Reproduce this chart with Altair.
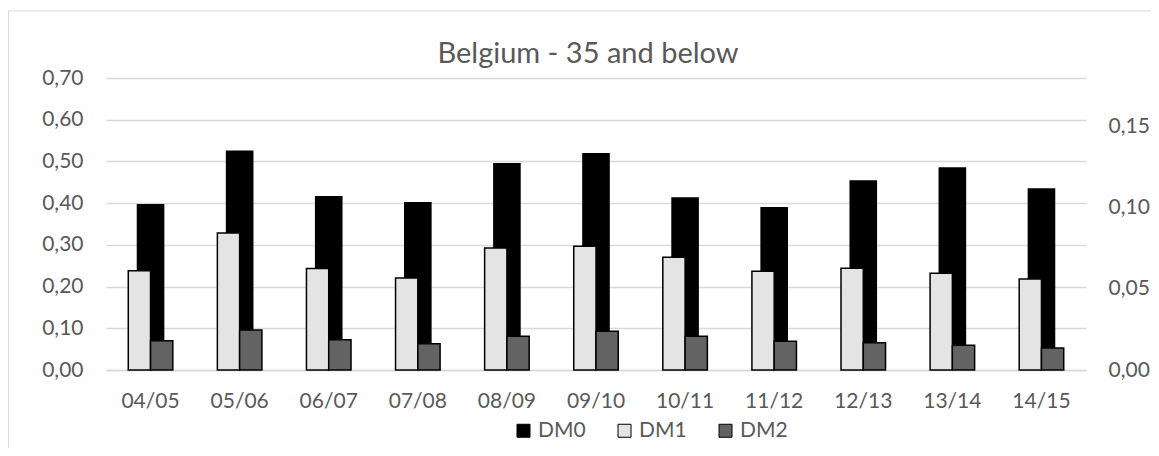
import pandas as pd
import altair as alt

seasons = ["04/05", "05/06", "06/07", "07/08", "08/09", "09/10",
           "10/11", "11/12", "12/13", "13/14", "14/15"]

# DM0 on the left axis, DM1 and DM2 on the right one
dm0 = [0.398, 0.526, 0.417, 0.403, 0.496, 0.520, 0.414, 0.391, 0.455, 0.486, 0.436]
dm1 = [0.0612, 0.0845, 0.0625, 0.0567, 0.0752, 0.0763, 0.0695, 0.0608, 0.0627, 0.0596, 0.0561]
dm2 = [0.0181, 0.0247, 0.0187, 0.0162, 0.0208, 0.0239, 0.0208, 0.0177, 0.0168, 0.0152, 0.0136]

series = ["DM0", "DM1", "DM2"]
fills = ["#000000", "#e4e4e4", "#636363"]

left_ticks = [0, 0.1, 0.2, 0.3, 0.4, 0.5, 0.6, 0.7]
right_ticks = [0, 0.05, 0.10, 0.15]

grey_text = "#595959"
font = "Lato"

df0 = pd.DataFrame({"season": seasons, "series": "DM0", "value": dm0})
df12 = pd.concat([
    pd.DataFrame({"season": seasons, "series": "DM1", "value": dm1}),
    pd.DataFrame({"season": seasons, "series": "DM2", "value": dm2}),
])

comma = "replace(format(datum.value, '.2f'), '.', ',')"

color = alt.Color(
    "series:N",
    scale=alt.Scale(domain=series, range=fills),
    legend=alt.Legend(
        title=None, orient="none", direction="horizontal",
        legendX=407, legendY=342, padding=0,
        symbolType="square", symbolSize=169,
        symbolStrokeColor="black", symbolStrokeWidth=1,
        labelFont=font, labelFontSize=21, labelColor=grey_text,
        labelOffset=4, columnPadding=28,
    ),
)

x = alt.X(
    "season:N", sort=seasons, title=None,
    scale=alt.Scale(paddingInner=0, paddingOuter=0),
    axis=alt.Axis(
        labelAngle=0, ticks=False, domainColor="#d9d9d9", domainWidth=1.5,
        labelFont=font, labelFontSize=21, labelColor=grey_text, labelPadding=20,
    ),
)

# light grey chart-area border, running off the right and bottom edges
frame = alt.Chart(pd.DataFrame({"f": [0]})).mark_rect(
    fillOpacity=0, stroke="#d9d9d9", strokeWidth=1
).encode(
    x=alt.value(-97.5), x2=alt.value(1200),
    y=alt.value(-67), y2=alt.value(600),
)

left = alt.Chart(df0).mark_bar(width=alt.RelativeBandSize(0.31)).encode(
    x=x,
    y=alt.Y(
        "value:Q", title=None,
        scale=alt.Scale(domain=[0, 0.7]),
        axis=alt.Axis(
            values=left_ticks, labelExpr=comma,
            grid=True, gridColor="#d9d9d9", gridWidth=1.3,
            domain=False, ticks=False, labelPadding=23,
            labelFont=font, labelFontSize=21, labelColor=grey_text,
        ),
    ),
    color=color,
)

right = alt.Chart(df12).mark_bar(stroke="black", strokeWidth=1.5).encode(
    x=x,
    xOffset=alt.XOffset(
        "series:N", sort=["DM1", "DM2"],
        scale=alt.Scale(domain=["DM1", "DM2"], paddingInner=0, paddingOuter=1),
    ),
    y=alt.Y(
        "value:Q", title=None,
        scale=alt.Scale(domain=[0, 0.18]),
        axis=alt.Axis(
            orient="right", values=right_ticks, labelExpr=comma,
            grid=False, domain=False, ticks=False, labelPadding=22,
            labelFont=font, labelFontSize=21, labelColor=grey_text,
        ),
    ),
    color=color,
)

chart = (
    alt.layer(frame, left, right)
    .resolve_scale(y="independent")
    .properties(
        width=980,
        height=292,
        title=alt.Title(
            "Belgium - 35 and below",
            font=font, fontSize=29, fontWeight="normal", color=grey_text,
            anchor="middle", frame="group", offset=-81, dx=-8,
            baseline="alphabetic",
        ),
        autosize=alt.AutoSizeParams(type="none"),
        padding={"left": 98, "top": 70, "right": 65, "bottom": 78},
        background="white",
    )
    .configure_view(stroke="transparent")
)

chart.save("out.html", embed_options={"renderer": "svg", "actions": False})
